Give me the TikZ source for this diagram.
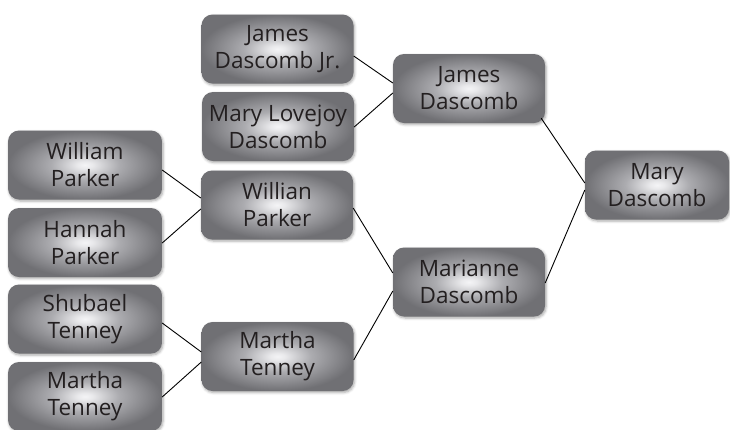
\documentclass[tikz,border=0pt]{standalone}
\usepackage{fontspec}
\setmainfont{Open Sans}
\usetikzlibrary{calc,shadows.blur}
\definecolor{txt}{HTML}{231F20}
\definecolor{cin}{RGB}{244,244,246}
\definecolor{cmid}{RGB}{172,172,176}
\definecolor{cout}{RGB}{112,112,116}
\pgfdeclareradialshading{boxshade}{\pgfpoint{0bp}{0bp}}{color(0bp)=(cin); color(2.5bp)=(cin!85!cmid); color(11bp)=(cmid); color(25bp)=(cout); color(50bp)=(cout)}
\tikzset{
  person/.style={rectangle, rounded corners=11pt, minimum width=152pt, minimum height=69pt,
    inner sep=0pt, align=center, text=txt, font=\fontsize{22.5}{27}\selectfont,
    shading=boxshade,
    blur shadow={shadow xshift=1pt, shadow yshift=-1.5pt, shadow blur radius=2.5pt, shadow opacity=35}},
  link/.style={draw=black, line width=0.9pt}
}
\begin{document}
\begin{tikzpicture}[x=1pt,y=-1pt]
\useasboundingbox (0,0) rectangle (730,429);
\node[person] (JJ)  at (277.5,49)  {James\\Dascomb Jr.};
\node[person] (ML)  at (278,126.5) {Mary Lovejoy\\Dascomb};
\node[person] (JD)  at (469,88.5)  {James\\Dascomb};
\node[person, minimum width=144pt] (MD) at (657,185) {Mary\\Dascomb};
\node[person] (MaD) at (469,282)   {Marianne\\Dascomb};
\node[person, minimum width=154pt] (WP) at (85,165)   {William\\Parker};
\node[person, minimum width=154pt] (HP) at (85,242.5) {Hannah\\Parker};
\node[person] (WiP) at (277,205)   {Willian\\Parker};
\node[person, minimum width=154pt] (ST) at (85,319)   {Shubael\\Tenney};
\node[person, minimum width=154pt] (MT) at (85,396.5) {Martha\\Tenney};
\node[person] (MTm) at (277.5,356.5) {Martha\\Tenney};
\draw[link] ($(JJ.east)+(0,7)$) -- ($(JD.west)+(0,-5.5)$);
\draw[link] ($(ML.east)+(0,0.5)$) -- ($(JD.west)+(0,4.5)$);
\draw[link] ($(JD.south east)+(-4,-5)$) -- ($(MD.west)+(0,-2)$);
\draw[link] ($(MaD.east)+(0,1)$) -- ($(MD.west)+(0,5)$);
\draw[link] ($(WP.east)+(0,5)$) -- ($(WiP.west)+(0,-7)$);
\draw[link] ($(HP.east)+(0,0.5)$) -- ($(WiP.west)+(0,4)$);
\draw[link] ($(WiP.east)+(0,3)$) -- ($(MaD.west)+(0,-9)$);
\draw[link] ($(MTm.east)+(0,3.5)$) -- ($(MaD.west)+(0,9)$);
\draw[link] ($(ST.east)+(0,4)$) -- ($(MTm.west)+(0,-4.5)$);
\draw[link] ($(MT.east)+(0,0.5)$) -- ($(MTm.west)+(0,5.5)$);
\end{tikzpicture}
\end{document}
